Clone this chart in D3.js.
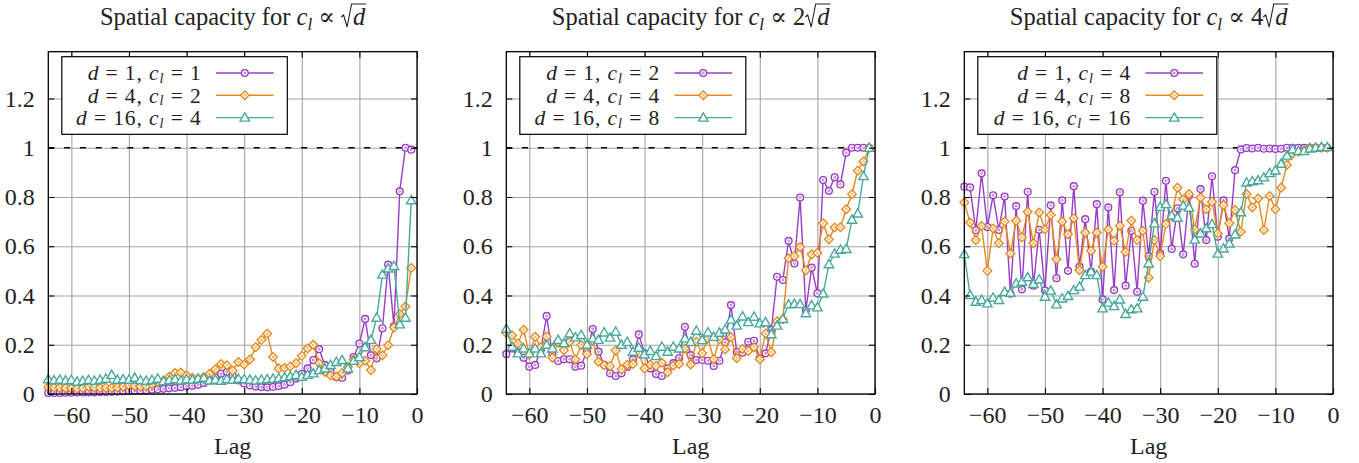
<!DOCTYPE html>
<html>
<head>
<meta charset="utf-8">
<script src="https://cdn.jsdelivr.net/npm/d3@7"></script>
<style>
  body { margin: 0; background: #fff; }
  svg { display: block; }
  svg text { white-space: pre; font-family: "Liberation Serif", "Times New Roman", "DejaVu Serif", serif; }
</style>
</head>
<body>
<svg id="chart" width="1359" height="463"></svg>
<script>
// ---- data -------------------------------------------------------------
const lags = [-64, -63, -62, -61, -60, -59, -58, -57, -56, -55, -54, -53, -52, -51, -50, -49,
              -48, -47, -46, -45, -44, -43, -42, -41, -40, -39, -38, -37, -36, -35, -34, -33,
              -32, -31, -30, -29, -28, -27, -26, -25, -24, -23, -22, -21, -20, -19, -18, -17,
              -16, -15, -14, -13, -12, -11, -10, -9, -8, -7, -6, -5, -4, -3, -2, -1];

const xTicks = [-60, -50, -40, -30, -20, -10, 0];
const yTicks = [0, 0.2, 0.4, 0.6, 0.8, 1, 1.2];
const referenceLevel = 1;

const dValues = [1, 4, 16];
const clSqrt = [1, 2, 4];
const clTwoSqrt = [2, 4, 8];
const clFourSqrt = [4, 8, 16];
const scaleFactors = ["", "2", "4"];

// c_l ∝ √d
const sqrtD1 = [0.004, 0.004, 0.004, 0.005, 0.005, 0.006, 0.006, 0.007, 0.007, 0.008, 0.008, 0.009, 0.010, 0.011, 0.012, 0.013,
                0.014, 0.015, 0.017, 0.019, 0.021, 0.023, 0.025, 0.028, 0.031, 0.034, 0.038, 0.045, 0.055, 0.068, 0.082, 0.090,
                0.075, 0.055, 0.043, 0.035, 0.030, 0.028, 0.027, 0.029, 0.032, 0.038, 0.048, 0.062, 0.082, 0.104, 0.138, 0.182,
                0.118, 0.090, 0.068, 0.066, 0.095, 0.150, 0.205, 0.305, 0.158, 0.145, 0.267, 0.525, 0.275, 0.823, 1.000, 0.992];
const sqrtD4 = [0.027, 0.026, 0.026, 0.024, 0.023, 0.022, 0.024, 0.030, 0.027, 0.025, 0.026, 0.025, 0.027, 0.030, 0.035, 0.032,
                0.030, 0.033, 0.040, 0.048, 0.055, 0.070, 0.085, 0.087, 0.075, 0.066, 0.063, 0.068, 0.082, 0.100, 0.122, 0.117,
                0.095, 0.130, 0.120, 0.140, 0.190, 0.220, 0.245, 0.150, 0.104, 0.106, 0.112, 0.125, 0.155, 0.185, 0.200, 0.125,
                0.090, 0.075, 0.070, 0.085, 0.110, 0.140, 0.125, 0.135, 0.097, 0.183, 0.157, 0.198, 0.270, 0.325, 0.355, 0.512];
const sqrtD16 = [0.060, 0.056, 0.058, 0.055, 0.057, 0.050, 0.053, 0.057, 0.054, 0.058, 0.062, 0.078, 0.058, 0.060, 0.058, 0.066,
                 0.056, 0.054, 0.057, 0.062, 0.052, 0.056, 0.060, 0.055, 0.060, 0.058, 0.062, 0.066, 0.055, 0.058, 0.054, 0.060,
                 0.058, 0.062, 0.060, 0.058, 0.055, 0.058, 0.060, 0.062, 0.064, 0.068, 0.072, 0.078, 0.070, 0.078, 0.084, 0.097,
                 0.104, 0.118, 0.130, 0.138, 0.104, 0.135, 0.150, 0.190, 0.220, 0.310, 0.485, 0.510, 0.520, 0.283, 0.310, 0.787];

// c_l ∝ 2√d
const twoSqrtD1 = [0.162, 0.185, 0.170, 0.147, 0.111, 0.118, 0.180, 0.317, 0.160, 0.134, 0.141, 0.141, 0.111, 0.115, 0.175, 0.264,
                   0.172, 0.118, 0.084, 0.073, 0.084, 0.110, 0.140, 0.242, 0.165, 0.104, 0.081, 0.073, 0.104, 0.125, 0.145, 0.273,
                   0.158, 0.138, 0.138, 0.135, 0.114, 0.135, 0.210, 0.361, 0.170, 0.168, 0.212, 0.216, 0.145, 0.165, 0.260, 0.476,
                   0.463, 0.622, 0.530, 0.798, 0.340, 0.513, 0.409, 0.869, 0.825, 0.880, 0.851, 0.980, 1.000, 1.000, 1.000, 1.000];
const twoSqrtD4 = [0.248, 0.238, 0.205, 0.261, 0.161, 0.232, 0.190, 0.233, 0.147, 0.211, 0.178, 0.212, 0.140, 0.199, 0.162, 0.216,
                   0.131, 0.117, 0.113, 0.177, 0.100, 0.119, 0.122, 0.165, 0.104, 0.119, 0.114, 0.127, 0.088, 0.116, 0.122, 0.185,
                   0.120, 0.212, 0.165, 0.226, 0.141, 0.222, 0.181, 0.230, 0.145, 0.183, 0.175, 0.190, 0.141, 0.246, 0.170, 0.295,
                   0.304, 0.551, 0.560, 0.597, 0.502, 0.567, 0.573, 0.693, 0.628, 0.676, 0.677, 0.750, 0.811, 0.907, 0.944, 1.000];
const twoSqrtD16 = [0.265, 0.192, 0.165, 0.185, 0.165, 0.185, 0.165, 0.200, 0.185, 0.220, 0.206, 0.246, 0.230, 0.240, 0.200, 0.226,
                    0.220, 0.250, 0.229, 0.253, 0.200, 0.212, 0.172, 0.188, 0.161, 0.175, 0.154, 0.192, 0.172, 0.192, 0.185, 0.226,
                    0.212, 0.257, 0.219, 0.250, 0.232, 0.249, 0.262, 0.302, 0.278, 0.315, 0.292, 0.314, 0.287, 0.292, 0.243, 0.278,
                    0.305, 0.364, 0.366, 0.365, 0.328, 0.360, 0.352, 0.408, 0.527, 0.570, 0.586, 0.589, 0.708, 0.733, 0.885, 1.000];

// c_l ∝ 4√d
const fourSqrtD1 = [0.842, 0.839, 0.665, 0.896, 0.678, 0.807, 0.666, 0.802, 0.407, 0.763, 0.425, 0.821, 0.440, 0.667, 0.420, 0.766,
                    0.470, 0.786, 0.500, 0.844, 0.517, 0.710, 0.497, 0.771, 0.384, 0.758, 0.422, 0.819, 0.440, 0.663, 0.415, 0.785,
                    0.560, 0.821, 0.571, 0.866, 0.589, 0.754, 0.567, 0.805, 0.529, 0.832, 0.625, 0.884, 0.639, 0.786, 0.631, 0.909,
                    0.993, 0.999, 0.997, 1.000, 0.996, 0.997, 0.995, 0.996, 1.000, 1.000, 1.000, 1.000, 1.000, 1.000, 1.000, 1.000];
const fourSqrtD4 = [0.778, 0.696, 0.625, 0.682, 0.500, 0.672, 0.612, 0.700, 0.571, 0.704, 0.636, 0.740, 0.612, 0.737, 0.668, 0.727,
                    0.547, 0.700, 0.649, 0.714, 0.503, 0.656, 0.582, 0.656, 0.517, 0.668, 0.622, 0.683, 0.577, 0.704, 0.625, 0.663,
                    0.472, 0.625, 0.560, 0.690, 0.723, 0.838, 0.790, 0.812, 0.668, 0.798, 0.750, 0.781, 0.652, 0.767, 0.693, 0.747,
                    0.659, 0.812, 0.758, 0.794, 0.666, 0.804, 0.750, 0.838, 0.930, 0.977, 0.984, 0.990, 1.000, 1.000, 1.000, 1.000];
const fourSqrtD16 = [0.568, 0.402, 0.375, 0.382, 0.368, 0.391, 0.382, 0.415, 0.411, 0.449, 0.456, 0.474, 0.447, 0.465, 0.395, 0.420,
                     0.364, 0.388, 0.398, 0.422, 0.436, 0.483, 0.497, 0.483, 0.348, 0.371, 0.357, 0.384, 0.325, 0.344, 0.348, 0.395,
                     0.530, 0.693, 0.760, 0.771, 0.725, 0.716, 0.765, 0.757, 0.627, 0.652, 0.673, 0.690, 0.570, 0.591, 0.611, 0.648,
                     0.738, 0.859, 0.864, 0.868, 0.880, 0.897, 0.908, 0.935, 0.968, 0.993, 0.987, 0.987, 0.997, 1.000, 1.003, 1.003];

// ---- styling ---------------------------------------------------------
const seriesColors = ["#9a3cc8", "#e8891a", "#48a89c"];
const seriesMarkers = ["circle", "diamond", "triangle"];
const FS = 24;          // tick labels, axis title
const TITLE_FS = 24.5;  // panel titles
const KEY_FS = 21.5;    // legend entries (letter-spaced)

const panels = [
  { left: 48.3, factor: scaleFactors[0], cl: clSqrt, series: [sqrtD1, sqrtD4, sqrtD16], legendWidth: 225.5 },
  { left: 506.3, factor: scaleFactors[1], cl: clTwoSqrt, series: [twoSqrtD1, twoSqrtD4, twoSqrtD16], legendWidth: 226 },
  { left: 964.3, factor: scaleFactors[2], cl: clFourSqrt, series: [fourSqrtD1, fourSqrtD4, fourSqrtD16], legendWidth: 239 }
];
const plotW = 368.7, plotTop = 51.7, plotBottom = 394;

const svg = d3.select("#chart");

// builds inline math such as "d = 1, c_l = 2" out of tspans
function mathText(textSel, parts, size, subShift, subScale) {
  let shifted = false;
  parts.forEach(p => {
    const ts = textSel.append("tspan").text(p.t);
    if (p.i) ts.attr("font-style", "italic");
    if (p.sub) {
      ts.attr("font-size", size * subScale);
      if (!shifted) { ts.attr("dy", subShift); shifted = true; }
    } else if (shifted) {
      ts.attr("dy", -subShift); shifted = false;
    }
    if (p.dx) ts.attr("dx", p.dx);
  });
}

function markerPath(type, r) {
  if (type === "diamond") return `M0,${-r}L${r},0L0,${r}L${-r},0Z`;
  const h = r * 1.15;
  return `M0,${-h}L${h},${h * 0.75}L${-h},${h * 0.75}Z`;
}

function drawMarker(g, type, color) {
  if (type === "circle") {
    g.append("circle").attr("r", 3.4).attr("fill", "#fff").attr("stroke", color).attr("stroke-width", 1.4);
    g.append("circle").attr("r", 1.0).attr("fill", "none").attr("stroke", color).attr("stroke-width", 0.7);
  } else if (type === "diamond") {
    g.append("path").attr("d", markerPath("diamond", 4.3)).attr("fill", "#fff").attr("stroke", color).attr("stroke-width", 1.4);
    g.append("circle").attr("r", 1.0).attr("fill", "none").attr("stroke", color).attr("stroke-width", 0.7);
  } else {
    g.append("path").attr("d", markerPath("triangle", 4.1)).attr("fill", "#fff").attr("stroke", color).attr("stroke-width", 1.4);
  }
}

panels.forEach(panel => {
  const x = d3.scaleLinear().domain([-64, 0]).range([panel.left, panel.left + plotW]);
  const y = d3.scaleLinear().domain([0, 1.39]).range([plotBottom, plotTop]);
  const g = svg.append("g");
  const cx = panel.left + plotW / 2;

  // grid
  const gridX = g.append("g").attr("transform", `translate(0,${plotBottom})`)
    .call(d3.axisBottom(x).tickValues(xTicks).tickSize(-(plotBottom - plotTop)).tickFormat(""));
  const gridY = g.append("g").attr("transform", `translate(${panel.left},0)`)
    .call(d3.axisLeft(y).tickValues(yTicks).tickSize(-plotW).tickFormat(""));
  [gridX, gridY].forEach(a => {
    a.select(".domain").remove();
    a.selectAll("line").attr("stroke", "#a3a3a3").attr("stroke-width", 1.1);
  });

  // reference level
  g.append("line")
    .attr("x1", x(-64)).attr("x2", x(0))
    .attr("y1", y(referenceLevel)).attr("y2", y(referenceLevel))
    .attr("stroke", "#000").attr("stroke-width", 1.3).attr("stroke-dasharray", "6,9.8");

  // series
  panel.series.forEach((vals, si) => {
    const color = seriesColors[si];
    const pts = lags.map((l, i) => [l, vals[i]]);
    g.append("path")
      .attr("d", d3.line().x(d => x(d[0])).y(d => y(d[1]))(pts))
      .attr("fill", "none").attr("stroke", color).attr("stroke-width", 1.4);
    pts.forEach(d => {
      const m = g.append("g").attr("transform", `translate(${x(d[0])},${y(d[1])})`);
      drawMarker(m, seriesMarkers[si], color);
    });
  });

  // axes with inward ticks, mirrored on top and right
  const axB = g.append("g").attr("transform", `translate(0,${plotBottom})`)
    .call(d3.axisBottom(x).tickValues(xTicks).tickSizeInner(-6).tickSizeOuter(0).tickPadding(11.5)
      .tickFormat(d => d < 0 ? "\u2212" + Math.abs(d) : String(d)));
  const axT = g.append("g").attr("transform", `translate(0,${plotTop})`)
    .call(d3.axisTop(x).tickValues(xTicks).tickSizeInner(-6).tickSizeOuter(0).tickFormat(""));
  const axL = g.append("g").attr("transform", `translate(${panel.left},0)`)
    .call(d3.axisLeft(y).tickValues(yTicks).tickSizeInner(-6).tickSizeOuter(0).tickPadding(13.5)
      .tickFormat(d => d === 0 ? "0" : String(+d.toFixed(1))));
  const axR = g.append("g").attr("transform", `translate(${panel.left + plotW},0)`)
    .call(d3.axisRight(y).tickValues(yTicks).tickSizeInner(-6).tickSizeOuter(0).tickFormat(""));
  [axB, axT, axL, axR].forEach(a => {
    a.attr("font-family", null).attr("font-size", FS);
    a.select(".domain").remove();
    a.selectAll("line").attr("stroke", "#000").attr("stroke-width", 1.1);
    a.selectAll("text").attr("fill", "#222");
  });

  // frame
  g.append("rect")
    .attr("x", panel.left).attr("y", plotTop)
    .attr("width", plotW).attr("height", plotBottom - plotTop)
    .attr("fill", "none").attr("stroke", "#000").attr("stroke-width", 1.3);

  // axis title
  g.append("text").attr("x", cx).attr("y", 454).attr("text-anchor", "middle")
    .attr("font-size", FS).attr("fill", "#222").text("Lag");

  // panel title with a drawn radical
  const base = 25;
  const title = g.append("text").attr("x", cx).attr("y", base).attr("text-anchor", "middle")
    .attr("font-size", TITLE_FS).attr("fill", "#222");
  mathText(title, [
    { t: "Spatial capacity for " },
    { t: "c", i: true }, { t: "l", i: true, sub: true },
    { t: " \u221D " + panel.factor },
    { t: "d", i: true, dx: 12 }
  ], TITLE_FS, 5, 0.7);
  const tn = title.node();
  const dBox = tn.getExtentOfChar(tn.getNumberOfChars() - 1);
  const rx = dBox.x - 12;
  g.append("path")
    .attr("d", `M${rx},${base - 8}L${rx + 2.5},${base - 10}L${rx + 6},${base + 2}L${rx + 10.5},${base - 21}L${dBox.x + dBox.width + 1},${base - 21}`)
    .attr("fill", "none").attr("stroke", "#222").attr("stroke-width", 1.1).attr("stroke-linejoin", "miter");

  // legend
  const lx = panel.left + 13.5, ly = 56.7, lw = panel.legendWidth, lh = 77.6;
  g.append("rect").attr("x", lx).attr("y", ly).attr("width", lw).attr("height", lh)
    .attr("fill", "#fff").attr("stroke", "#000").attr("stroke-width", 1.2);
  const rowY = [73, 95.3, 117.6];
  dValues.forEach((dv, si) => {
    const ry = rowY[si];
    const t = g.append("text").attr("x", lx + lw - 85.7).attr("y", ry + 7.3)
      .attr("text-anchor", "end").attr("font-size", KEY_FS).attr("letter-spacing", 0.9).attr("fill", "#222");
    mathText(t, [
      { t: "d", i: true }, { t: " = " + dv + ", " },
      { t: "c", i: true }, { t: "l", i: true, sub: true },
      { t: " = " + panel.cl[si] }
    ], KEY_FS, 2.6, 0.66);
    const x1 = lx + lw - 71.3, x2 = lx + lw - 13.7;
    g.append("line").attr("x1", x1).attr("x2", x2).attr("y1", ry).attr("y2", ry)
      .attr("stroke", seriesColors[si]).attr("stroke-width", 1.4);
    const m = g.append("g").attr("transform", `translate(${(x1 + x2) / 2},${ry})`);
    drawMarker(m, seriesMarkers[si], seriesColors[si]);
  });
});
</script>
</body>
</html>
